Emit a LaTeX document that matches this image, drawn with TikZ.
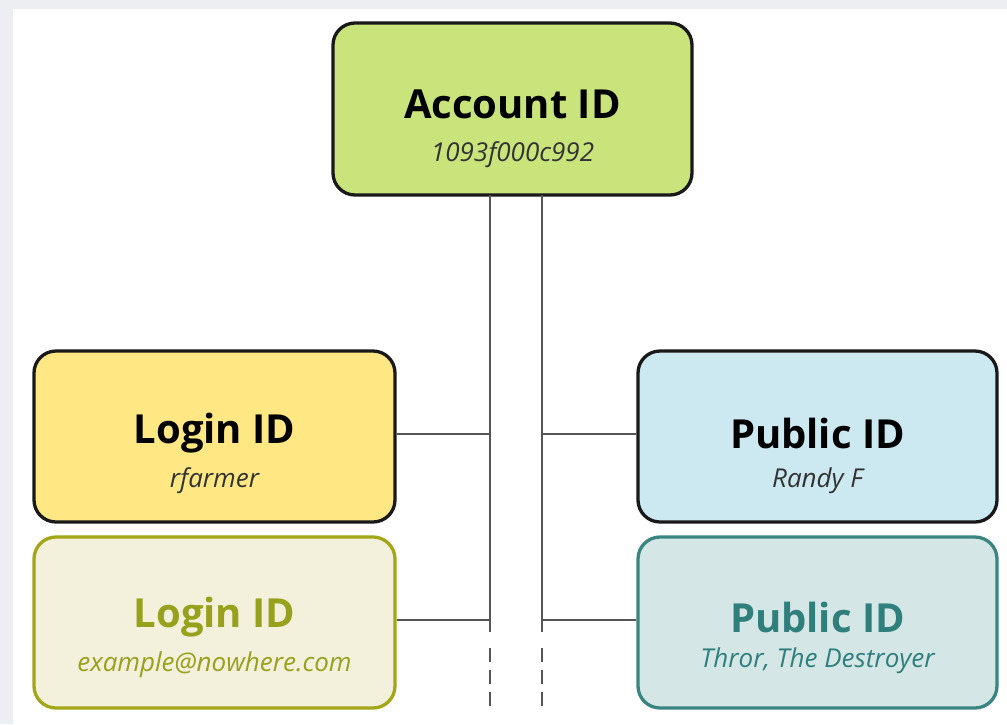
\documentclass[tikz,border=0pt]{standalone}
\usepackage{fontspec}
\setmainfont{Open Sans}
\usetikzlibrary{calc}
\definecolor{bggray}{HTML}{ECEEF2}
\definecolor{accfill}{HTML}{CAE47C}
\definecolor{logfill}{HTML}{FFE883}
\definecolor{log2fill}{HTML}{F3F0DB}
\definecolor{log2line}{HTML}{A2A617}
\definecolor{log2text}{HTML}{97A11C}
\definecolor{pubfill}{HTML}{CCE9F2}
\definecolor{pub2fill}{HTML}{D4E6E6}
\definecolor{pub2line}{HTML}{3A8582}
\definecolor{pub2text}{HTML}{2F7F7C}
\definecolor{connc}{HTML}{555555}
\definecolor{subc}{HTML}{333333}
\tikzset{
  idbox/.style={draw=black!90, line width=3.3pt, rounded corners=22pt, minimum width=358pt, minimum height=170pt, inner sep=0pt},
  titletext/.style={font=\fontsize{40}{44}\selectfont\bfseries, inner sep=0pt, anchor=center},
  subtext/.style={font=\fontsize{26}{30}\selectfont\itshape, text=subc, inner sep=0pt, anchor=center},
  conn/.style={draw=connc, line width=2pt},
}
\begin{document}
\begin{tikzpicture}[x=1pt,y=-1pt]
\fill[bggray] (0,0) rectangle (1007,724);
\fill[white] (13,9) rectangle (1007,724);
\useasboundingbox (0,0) rectangle (1007,724);
% connectors
\coordinate (vla) at (490,195);
\coordinate (vlb) at (490,632);
\coordinate (vlc) at (490,648);
\coordinate (vld) at (490,710);
\coordinate (vra) at (542,195);
\coordinate (vrb) at (542,632);
\coordinate (vrc) at (542,648);
\coordinate (vrd) at (542,710);
% boxes
\node[idbox, fill=accfill, minimum width=359pt, minimum height=172pt] (acc) at (512.5,109) {};
\node[idbox, fill=logfill, minimum width=361pt, minimum height=171pt] (log) at (214.5,436.5) {};
\node[idbox, fill=log2fill, draw=log2line, minimum width=361pt, minimum height=171pt] (log2) at (214.5,622.5) {};
\node[idbox, fill=pubfill, minimum width=359pt, minimum height=171pt] (pub) at (817.5,436.5) {};
\node[idbox, fill=pub2fill, draw=pub2line, minimum width=359pt, minimum height=171pt] (pub2) at (817.5,622.5) {};
\draw[conn] (vla) -- (vlb);
\draw[conn] (vra) -- (vrb);
\draw[conn, dash pattern=on 14pt off 8pt] (vlc) -- (vld);
\draw[conn, dash pattern=on 14pt off 8pt] (vrc) -- (vrd);
\draw[conn] (log.east |- 0,434) -- (vla |- 0,434);
\draw[conn] (pub.west |- 0,434) -- (vra |- 0,434);
\draw[conn] (log2.east |- 0,620) -- (vla |- 0,620);
\draw[conn] (pub2.west |- 0,620) -- (vra |- 0,620);
% texts
\node[titletext] (accT) at (512.5,104) {Account ID};
\node[subtext] (accS) at (512.5,155) {1093f000c992};
\node[titletext] (logT) at (214.5,433) {Login ID};
\node[subtext] (logS) at (214.5,481) {rfarmer};
\node[titletext, text=log2text] (log2T) at (214.5,617) {Login ID};
\node[subtext, text=log2text] (log2S) at (214.5,665) {example@nowhere.com};
\node[titletext] (pubT) at (817.5,433) {Public ID};
\node[subtext] (pubS) at (817.5,481) {Randy F};
\node[titletext, text=pub2text] (pub2T) at (817.5,617) {Public ID};
\node[subtext, text=pub2text] (pub2S) at (817.5,661) {Thror, The Destroyer};
\end{tikzpicture}
\end{document}
